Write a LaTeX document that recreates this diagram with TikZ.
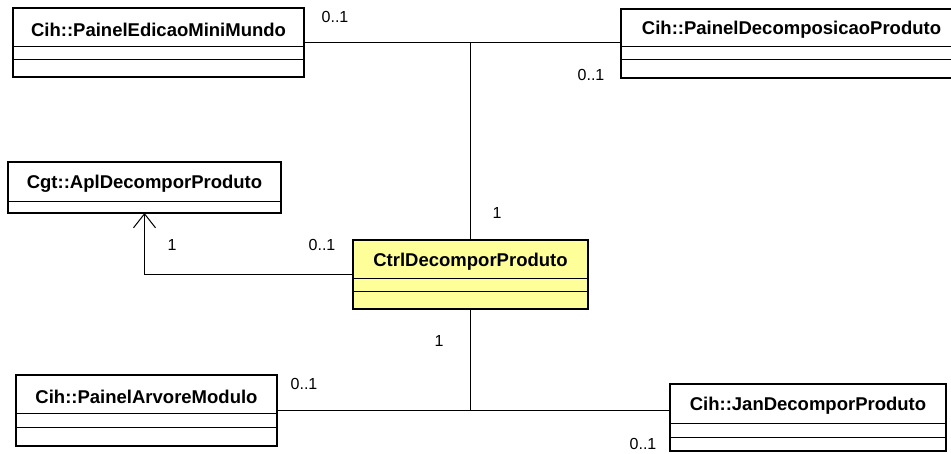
\documentclass[tikz,border=0pt]{standalone}
\usepackage{fontspec}
\setmainfont{Liberation Sans}
\usetikzlibrary{arrows.meta}
\definecolor{ctrlyellow}{RGB}{255,255,153}
\tikzset{
  classbox/.style={draw, line width=2.2pt, fill=white, outer sep=0pt, inner sep=0pt, anchor=north west},
  classname/.style={font=\fontsize{18.5}{20}\selectfont\bfseries, inner sep=0pt},
  divider/.style={line width=1pt},
  assoc/.style={line width=1pt},
  mult/.style={font=\fontsize{16}{18}\selectfont, inner sep=0pt}
}
\begin{document}
\begin{tikzpicture}[x=1pt,y=-1pt]
  \useasboundingbox[fill=white] (0,0) rectangle (951,454);
  % classes
  \node[classbox, minimum width=291pt, minimum height=69pt] (edicao) at (13,8) {};
  \node[classname] (edicaoname) at ([yshift=-22pt]edicao.north) {Cih::PainelEdicaoMiniMundo};
  \draw[divider] ([yshift=-39pt]edicao.north west) -- ([yshift=-39pt]edicao.north east);
  \draw[divider] ([yshift=-52pt]edicao.north west) -- ([yshift=-52pt]edicao.north east);
  \node[classbox, minimum width=341pt, minimum height=69pt] (decomp) at (621,9) {};
  \node[classname] (decompname) at ([yshift=-21pt]decomp.north) {Cih::PainelDecomposicaoProduto};
  \draw[divider] ([yshift=-38pt]decomp.north west) -- ([yshift=-38pt]decomp.north east);
  \draw[divider] ([yshift=-51pt]decomp.north west) -- ([yshift=-51pt]decomp.north east);
  \node[classbox, minimum width=273pt, minimum height=51pt] (apl) at (8,162) {};
  \node[classname] (aplname) at ([yshift=-22pt]apl.north) {Cgt::AplDecomporProduto};
  \draw[divider] ([yshift=-40pt]apl.north west) -- ([yshift=-40pt]apl.north east);
  \node[classbox, fill=ctrlyellow, minimum width=235pt, minimum height=69pt] (ctrl) at (353,240) {};
  \node[classname] (ctrlname) at ([yshift=-22pt]ctrl.north) {CtrlDecomporProduto};
  \draw[divider] ([yshift=-39pt]ctrl.north west) -- ([yshift=-39pt]ctrl.north east);
  \draw[divider] ([yshift=-52pt]ctrl.north west) -- ([yshift=-52pt]ctrl.north east);
  \node[classbox, minimum width=261pt, minimum height=71pt] (arvore) at (16,375) {};
  \node[classname] (arvorename) at ([yshift=-22pt]arvore.north) {Cih::PainelArvoreModulo};
  \draw[divider] ([yshift=-38pt]arvore.north west) -- ([yshift=-38pt]arvore.north east);
  \draw[divider] ([yshift=-52pt]arvore.north west) -- ([yshift=-52pt]arvore.north east);
  \node[classbox, minimum width=276pt, minimum height=67pt] (jan) at (670,384) {};
  \node[classname] (janname) at ([yshift=-22pt]jan.north) {Cih::JanDecomporProduto};
  \draw[divider] ([yshift=-39pt]jan.north west) -- ([yshift=-39pt]jan.north east);
  \draw[divider] ([yshift=-53pt]jan.north west) -- ([yshift=-53pt]jan.north east);
  % associations
  \coordinate (topjoin) at (edicao.east -| ctrl.north);
  \coordinate (botjoin) at (arvore.east -| ctrl.south);
  \draw[assoc] (edicao.east) -- (edicao.east -| decomp.west);
  \draw[assoc] (topjoin) -- (ctrl.north);
  \draw[assoc] (ctrl.south) -- (botjoin);
  \draw[assoc] (arvore.east) -- (arvore.east -| jan.west);
  \draw[assoc,-{Straight Barb[length=14pt,width=22pt]}] (ctrl.west) -| (apl.south);
  % multiplicities
  \node[mult] (m1) at (335,17) {0..1};
  \node[mult] (m2) at (591,75) {0..1};
  \node[mult] (m3) at (497,213) {1};
  \node[mult] (m4) at (172,245) {1};
  \node[mult] (m5) at (322,245) {0..1};
  \node[mult] (m6) at (439,341) {1};
  \node[mult] (m7) at (304,384) {0..1};
  \node[mult] (m8) at (643,444) {0..1};
\end{tikzpicture}
\end{document}
